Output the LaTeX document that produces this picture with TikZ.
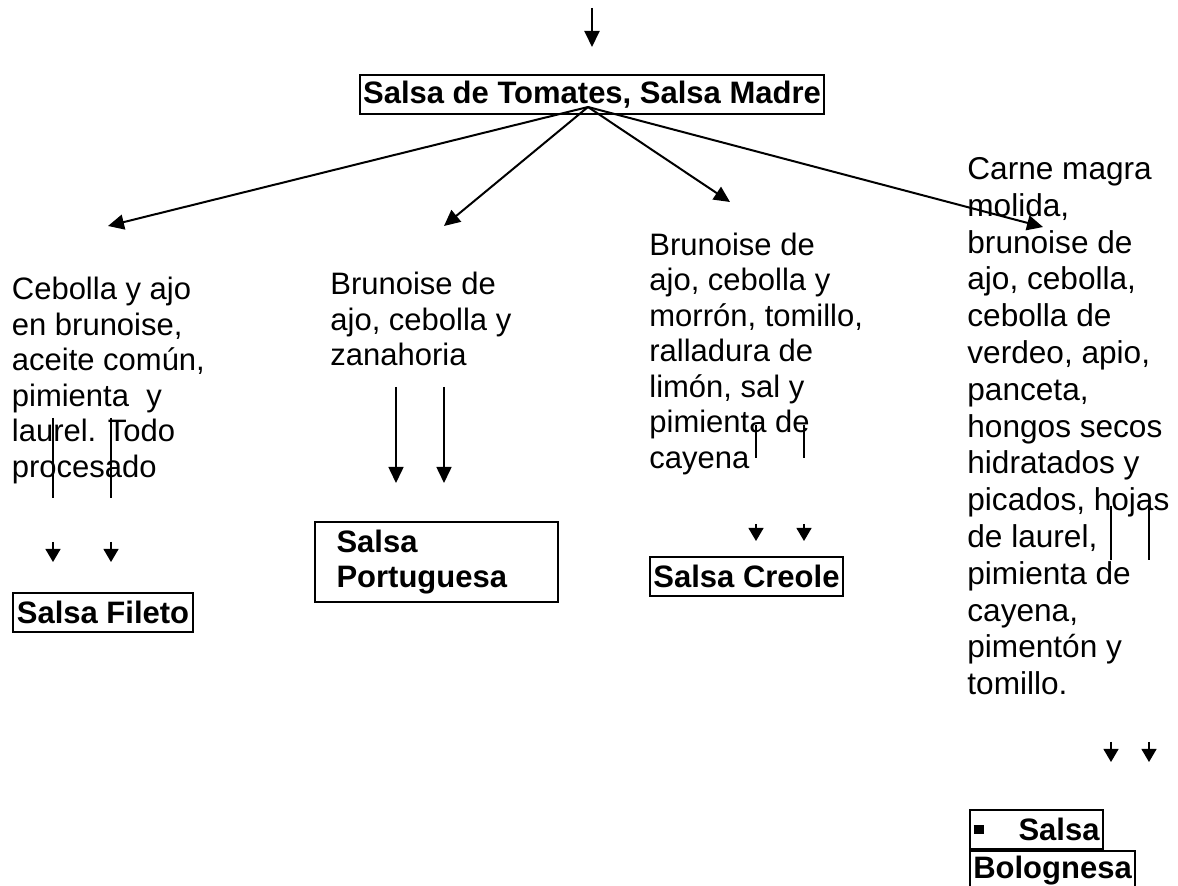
\documentclass[tikz,border=0pt]{standalone}
\usepackage{fontspec}
\setmainfont{Liberation Sans}
\usepackage{tikz}
\usetikzlibrary{arrows.meta,positioning}

\begin{document}
\begin{tikzpicture}[
        x=0.5pt, y=-0.5pt,
        receta/.style={
            anchor=north west, align=left, inner sep=0pt,
            font=\fontsize{15.5}{17.75}\selectfont
          },
        salsa/.style={
            rectangle, draw=black, line width=1pt,
            inner xsep=1.5pt, inner ysep=0pt, minimum height=19.5pt,
            font=\fontsize{15.5}{17.75}\selectfont\bfseries, align=left
          },
        flecha/.style={-{Triangle[length=8pt,width=7.5pt]}, line width=1pt},
        palito/.style={line width=0.6pt},
        puntita/.style={-{Triangle[length=6.5pt,width=7.5pt]}, line width=0.6pt},
      ]
      \useasboundingbox (0,0) rectangle (1178,886);

      % Salsa madre
      \coordinate (inicio) at (592,8);
      \coordinate (inicioFin) at (592,47);
      \draw [flecha] (inicio) -- (inicioFin);
      \node [salsa, minimum width=230pt] (madre) at (592,94.5) {Salsa de Tomates, Salsa Madre};
      \coordinate (centro) at (588,107);

      % Ingredientes
      \node [receta] (ingFileto) at (11.5,277) {Cebolla y ajo\\en brunoise,\\aceite común,\\pimienta\ \ y\\laurel. Todo\\procesado};
      \node [receta] (ingPortuguesa) at (330,272) {Brunoise de\\ajo, cebolla y\\zanahoria};
      \node [receta] (ingCreole) at (649,232.5) {Brunoise de\\ajo, cebolla y\\morrón, tomillo,\\ralladura de\\limón, sal y\\pimienta de\\cayena};
      \node [receta, font=\fontsize{15.8}{18.4}\selectfont] (ingBolognesa) at (967,157) {Carne magra\\molida,\\brunoise de\\ajo, cebolla,\\cebolla de\\verdeo, apio,\\panceta,\\hongos secos\\hidratados y\\picados, hojas\\de laurel,\\pimienta de\\cayena,\\pimentón y\\tomillo.};

      % Flechas desde la salsa madre
      \coordinate (puntaFileto) at (108,226);
      \coordinate (puntaPortuguesa) at (444,226);
      \coordinate (puntaCreole) at (730,202);
      \coordinate (puntaBolognesa) at (1043,227);
      \draw [flecha] (centro) -- (puntaFileto);
      \draw [flecha] (centro) -- (puntaPortuguesa);
      \draw [flecha] (centro) -- (puntaCreole);
      \draw [flecha] (centro) -- (puntaBolognesa);

      % Salsas derivadas
      \node [salsa, minimum width=90pt] (fileto) at (103,612.5) {Salsa Fileto};
      \node [salsa, minimum width=121.5pt, minimum height=40pt, text width=100pt] (portuguesa) at (436.5,562) {Salsa\\Portuguesa};
      \node [salsa, minimum width=96.5pt] (creole) at (746.5,576.5) {Salsa Creole};
      \node [salsa, minimum width=66.5pt, anchor=north west] (bolognesaA) at (969,809) {\rule[3.5pt]{5pt}{4.5pt}\hspace{17.5pt}Salsa};
      \node [salsa, minimum width=82.5pt, anchor=north west] (bolognesaB) at (bolognesaA.south west) {Bolognesa};

      % Palitos y puntas sueltas
      \foreach \x/\a/\b/\c/\d in {53/418/498/542/562, 111/418/498/542/562,
                                  756/425/458/524/541, 804/425/458/524/541,
                                  1111/506/560/742/762, 1149/506/560/742/762} {
          \coordinate (palA\x) at (\x,\a);
          \coordinate (palB\x) at (\x,\b);
          \coordinate (punA\x) at (\x,\c);
          \coordinate (punB\x) at (\x,\d);
          \draw [palito] (palA\x) -- (palB\x);
          \draw [puntita] (punA\x) -- (punB\x);
        }

      % Flechas largas a la portuguesa
      \foreach \x in {396,444} {
          \coordinate (largaA\x) at (\x,387);
          \coordinate (largaB\x) at (\x,483);
          \draw [flecha, line width=0.8pt] (largaA\x) -- (largaB\x);
        }
    \end{tikzpicture}
\end{document}
